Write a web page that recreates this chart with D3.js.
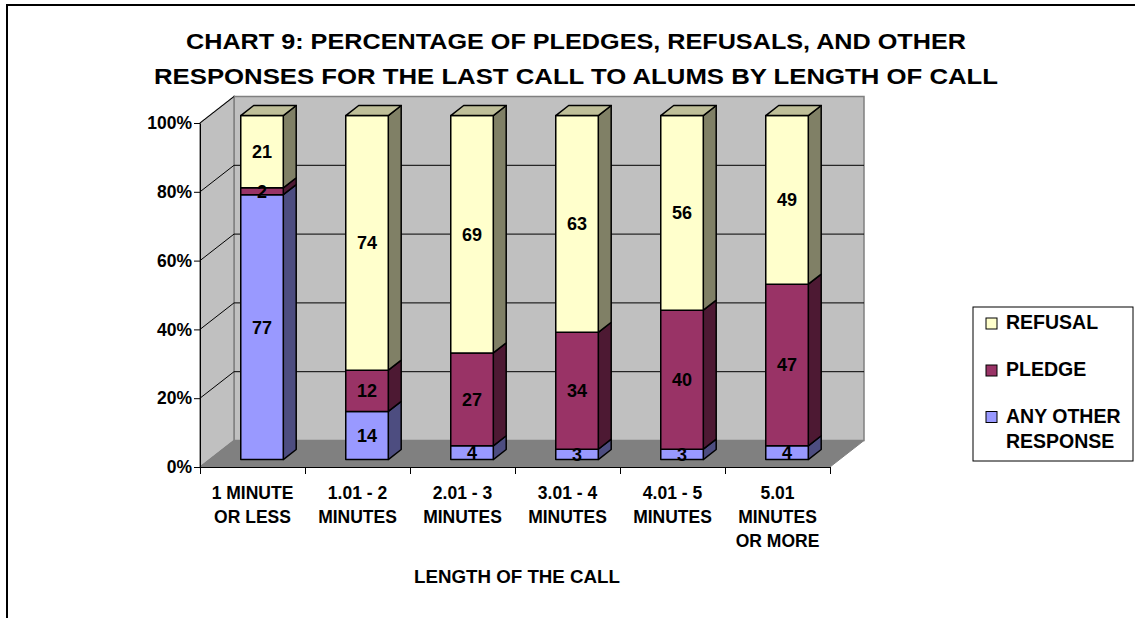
<!DOCTYPE html>
<html><head><meta charset="utf-8">
<script src="https://cdn.jsdelivr.net/npm/d3@7"></script>
<style>
body{margin:0;background:#fff;}
svg{display:block;font-family:"Liberation Sans",Arial,Helvetica,sans-serif;font-weight:bold;}
</style></head><body>
<svg id="chart" width="1135" height="618"></svg>
<script>
// ---- data ----
const categories = [
  ["1 MINUTE", "OR LESS"],
  ["1.01 - 2", "MINUTES"],
  ["2.01 - 3", "MINUTES"],
  ["3.01 - 4", "MINUTES"],
  ["4.01 - 5", "MINUTES"],
  ["5.01", "MINUTES", "OR MORE"]
];
const seriesKeys = ["other", "pledge", "refusal"];
const seriesLabels = [["ANY OTHER", "RESPONSE"], ["PLEDGE"], ["REFUSAL"]];
const otherResponse = [77, 14, 4, 3, 3, 4];
const pledge = [2, 12, 27, 34, 40, 47];
const refusal = [21, 74, 69, 63, 56, 49];
const yTicks = [0, 0.2, 0.4, 0.6, 0.8, 1];
const titleLines = [
  "CHART 9: PERCENTAGE OF PLEDGES, REFUSALS, AND OTHER",
  "RESPONSES FOR THE LAST CALL TO ALUMS BY LENGTH OF CALL"
];
const axisTitle = "LENGTH OF THE CALL";

// face colours: front, top, side
const palette = {
  other:   {front: "#9999ff", top: "#7373bf", side: "#4d4d80"},
  pledge:  {front: "#993366", top: "#73264d", side: "#4d1933"},
  refusal: {front: "#ffffcc", top: "#bfbf99", side: "#808066"}
};

const rows = categories.map((c, i) => ({
  other: otherResponse[i], pledge: pledge[i], refusal: refusal[i]
}));

// ---- layout ----
const svg = d3.select("#chart");
const X0 = 200, X1 = 830, YB = 467, YT = 123;
const DX = 34, DY = -26.5;          // full-depth oblique offset
const D0 = 0.28, D1 = 0.66;         // bar front / back depth

const x = d3.scaleBand().domain(d3.range(categories.length))
  .range([X0, X1]).paddingInner(0.595).paddingOuter(0.2975);
const xb = d3.scaleLinear().domain([0, categories.length]).range([X0, X1]);
const y = d3.scaleLinear().domain([0, 1]).range([YB, YT]);
const P = (px, py, d) => [px + DX * d, py + DY * d];
const poly = pts => "M" + pts.map(p => p.join(",")).join("L") + "Z";

// outer frame
svg.append("path").attr("d", `M7,618V5H1135`).attr("fill", "none")
  .attr("stroke", "#000").attr("stroke-width", 2);

// title
svg.append("g").selectAll("text").data(titleLines).join("text")
  .attr("x", 576).attr("y", (d, i) => 49 + i * 35)
  .attr("text-anchor", "middle").attr("font-size", 21.5)
  .attr("textLength", (d, i) => i === 0 ? 780 : 844)
  .attr("lengthAdjust", "spacingAndGlyphs")
  .text(d => d);

// walls and floor
const wallStroke = "#808080";
svg.append("path").attr("d", poly([P(X0, y(1), 1), P(X1, y(1), 1), P(X1, y(0), 1), P(X0, y(0), 1)]))
  .attr("fill", "#c0c0c0").attr("stroke", wallStroke).attr("stroke-width", 1.5);
svg.append("path").attr("d", poly([P(X0, y(1), 0), P(X0, y(1), 1), P(X0, y(0), 1), P(X0, y(0), 0)]))
  .attr("fill", "#c0c0c0").attr("stroke", wallStroke).attr("stroke-width", 1.5);
svg.append("path").attr("d", poly([P(X0, y(0), 0), P(X1, y(0), 0), P(X1, y(0), 1), P(X0, y(0), 1)]))
  .attr("fill", "#808080").attr("stroke", wallStroke).attr("stroke-width", 1);

// gridlines on back wall and side wall
const grid = svg.append("g").attr("stroke", "#000").attr("stroke-width", 1).attr("fill", "none");
grid.selectAll("path").data(yTicks.filter(t => t > 0)).join("path")
  .attr("d", t => {
    const a = P(X0, y(t), 0), b = P(X0, y(t), 1), c = P(X1, y(t), 1);
    return t < 1 ? `M${a}L${b}L${c}` : `M${a}L${b}`;
  });

// y axis
const yAxis = svg.append("g").attr("transform", `translate(${X0},0)`)
  .call(d3.axisLeft(y).tickValues(yTicks).tickFormat(d3.format(".0%")).tickSize(6).tickSizeOuter(0).tickPadding(2));
yAxis.selectAll("text").attr("font-size", 17.5).attr("font-weight", "bold")
  .attr("font-family", "Liberation Sans, Arial, sans-serif").attr("fill", "#000");
yAxis.selectAll("line,path").attr("stroke", "#000");

// x axis (ticks at category boundaries)
const xAxis = svg.append("g").attr("transform", `translate(0,${YB})`)
  .call(d3.axisBottom(xb).ticks(categories.length).tickFormat("").tickSize(7).tickSizeOuter(0));
xAxis.selectAll("line,path").attr("stroke", "#000");

// category labels
svg.append("g").selectAll("text").data(categories).join("text")
  .attr("x", (d, i) => x(i) + x.bandwidth() / 2)
  .attr("y", 499).attr("text-anchor", "middle").attr("font-size", 17.5)
  .selectAll("tspan").data(d => d).join("tspan")
  .attr("x", function () { return this.parentNode.getAttribute("x"); })
  .attr("dy", (d, i) => i === 0 ? 0 : 24)
  .text(d => d);

svg.append("text").attr("x", 517).attr("y", 583).attr("text-anchor", "middle")
  .attr("font-size", 17.5).attr("textLength", 206).attr("lengthAdjust", "spacingAndGlyphs")
  .text(axisTitle);

// stacked 3D columns (100% stacked)
const stacked = d3.stack().keys(seriesKeys).offset(d3.stackOffsetExpand)(rows);
const bars = svg.append("g").attr("stroke", "#000").attr("stroke-width", 1.5).attr("stroke-linejoin", "round");
categories.forEach((c, i) => {
  const xl = x(i), xr = x(i) + x.bandwidth();
  stacked.forEach((layer, li) => {
    const seg = layer[i];
    const col = palette[layer.key];
    const y0 = y(seg[0]), y1 = y(seg[1]);
    bars.append("path").attr("fill", col.side)
      .attr("d", poly([P(xr, y1, D0), P(xr, y1, D1), P(xr, y0, D1), P(xr, y0, D0)]));
    bars.append("path").attr("fill", col.front)
      .attr("d", poly([P(xl, y1, D0), P(xr, y1, D0), P(xr, y0, D0), P(xl, y0, D0)]));
    if (li === stacked.length - 1) {
      bars.append("path").attr("fill", col.top)
        .attr("d", poly([P(xl, y1, D0), P(xl, y1, D1), P(xr, y1, D1), P(xr, y1, D0)]));
    }
  });
});

// value labels
const labels = svg.append("g").attr("font-size", 18).attr("text-anchor", "middle");
stacked.forEach((layer, li) => {
  const vals = [otherResponse, pledge, refusal][li];
  layer.forEach((seg, i) => {
    const c = P(x(i) + x.bandwidth() / 2, y((seg[0] + seg[1]) / 2), D0);
    labels.append("text").attr("x", c[0]).attr("y", c[1] + 6.5).text(vals[i]);
  });
});

// legend
const lg = svg.append("g");
lg.append("rect").attr("x", 973).attr("y", 307).attr("width", 160).attr("height", 154)
  .attr("fill", "#fff").attr("stroke", "#000").attr("stroke-width", 1);
const legendOrder = [2, 1, 0];
const legendY = [329, 376, 422.5];
legendOrder.forEach((si, k) => {
  const key = seriesKeys[si];
  lg.append("rect").attr("x", 986).attr("y", legendY[k] - 11).attr("width", 11).attr("height", 11)
    .attr("fill", palette[key].front).attr("stroke", "#000").attr("stroke-width", 1);
  const t = lg.append("text").attr("x", 1006).attr("y", legendY[k]).attr("font-size", 19.5);
  t.selectAll("tspan").data(seriesLabels[si]).join("tspan")
    .attr("x", 1006).attr("dy", (d, j) => j === 0 ? 0 : 25.5).text(d => d);
});
</script>
</body></html>
